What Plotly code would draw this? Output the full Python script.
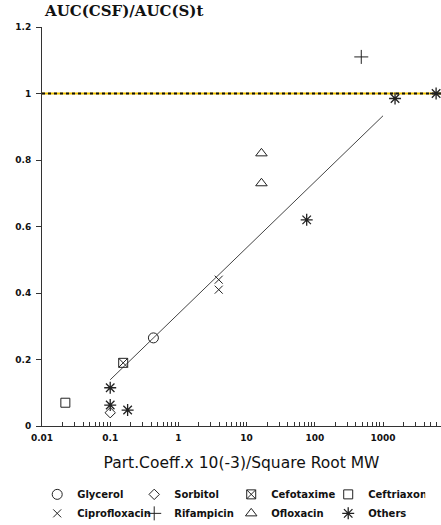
import plotly.graph_objects as go

# Drug measurements: partition coefficient x 10^-3 / sqrt(MW) vs AUC ratio
glycerol_x = [0.43]
glycerol_y = [0.265]
sorbitol_x = [0.1]
sorbitol_y = [0.04]
cefotaxime_x = [0.155]
cefotaxime_y = [0.19]
ceftriaxone_x = [0.022]
ceftriaxone_y = [0.07]
cipro_x = [3.9, 3.9]
cipro_y = [0.44, 0.41]
rifampicin_x = [480]
rifampicin_y = [1.11]
ofloxacin_x = [16.5, 16.5]
ofloxacin_y = [0.82, 0.73]
others_x = [0.1, 0.1, 0.18, 76, 1500, 6000]
others_y = [0.115, 0.063, 0.048, 0.62, 0.985, 1.0]

# Fitted regression line end points
fit_x = [0.1, 1000]
fit_y = [0.139, 0.933]

x_tickvals = [0.01, 0.1, 1, 10, 100, 1000]
x_ticktext = ["0.01", "0.1", "1", "10", "100", "1000"]
y_tickvals = [0, 0.2, 0.4, 0.6, 0.8, 1.0, 1.2]
y_ticktext = ["0", "0.2", "0.4", "0.6", "0.8", "1", "1.2"]

INK = "#222222"

series = [
    ("Glycerol", glycerol_x, glycerol_y, "circle-open", 10),
    ("Sorbitol", sorbitol_x, sorbitol_y, "diamond-open", 8),
    ("Cefotaxime", cefotaxime_x, cefotaxime_y, "square-x-open", 9),
    ("Ceftriaxone", ceftriaxone_x, ceftriaxone_y, "square-open", 9),
    ("Ciprofloxacin", cipro_x, cipro_y, "x-thin-open", 8),
    ("Rifampicin", rifampicin_x, rifampicin_y, "cross-thin-open", 10),
    ("Ofloxacin", ofloxacin_x, ofloxacin_y, "triangle-up-open", 10),
    ("Others", others_x, others_y, "asterisk-open", 10),
]

fig = go.Figure()

fig.add_trace(go.Scatter(
    x=fit_x, y=fit_y, mode="lines",
    line=dict(color="#444444", width=1),
    showlegend=False, hoverinfo="skip",
))

for name, xs, ys, sym, size in series:
    fig.add_trace(go.Scatter(
        x=xs, y=ys, mode="markers", name=name,
        marker=dict(symbol=sym, size=size, color=INK,
                    line=dict(color=INK, width=1.3 if name == "Others" else 1.0)),
        cliponaxis=False,
    ))

# Reference line at ratio = 1 (yellow with black dots)
fig.add_shape(type="line", xref="paper", yref="y", x0=0, x1=1, y0=1, y1=1,
              line=dict(color="#f2c400", width=2), layer="below")
fig.add_shape(type="line", xref="paper", yref="y", x0=0, x1=1, y0=1, y1=1,
              line=dict(color="#111111", width=2, dash="dot"), layer="below")

# Y-axis caption above the axis
fig.add_annotation(
    text="<b>AUC(CSF)/AUC(S)t</b>", xref="paper", yref="paper", x=0, y=1,
    xanchor="left", yanchor="bottom", yshift=5, showarrow=False,
    font=dict(family="DejaVu Serif", size=15, color="#111111"),
)

fig.update_layout(
    width=441, height=525,
    margin=dict(l=42, r=0, t=27, b=99, autoexpand=False),
    paper_bgcolor="white", plot_bgcolor="white",
    showlegend=True,
    legend=dict(
        orientation="h", x=-0.012, xanchor="left", y=-0.135, yanchor="top",
        entrywidth=52, entrywidthmode="pixels",
        font=dict(family="DejaVu Sans", size=10, color="#111111", weight="bold"),
        tracegroupgap=0, itemwidth=30,
    ),
    xaxis=dict(
        type="log", range=[-2, 3.85],
        tickvals=x_tickvals, ticktext=x_ticktext,
        ticks="inside", ticklen=4, tickcolor="#333333",
        minor=dict(ticks="inside", ticklen=4, dtick="D1", tickcolor="#333333", showgrid=False),
        showline=True, linecolor="#333333", linewidth=1,
        showgrid=False, zeroline=False,
        ticklabelstandoff=3,
        tickfont=dict(family="DejaVu Sans", size=9, color="#111111", weight="bold"),
        title=dict(text="Part.Coeff.x 10(-3)/Square Root MW",
                   font=dict(family="DejaVu Sans", size=15.5, color="#111111"),
                   standoff=15),
    ),
    yaxis=dict(
        range=[0, 1.2],
        tickvals=y_tickvals, ticktext=y_ticktext,
        ticks="outside", ticklen=5, tickcolor="#333333",
        showline=True, linecolor="#333333", linewidth=1,
        showgrid=False, zeroline=False,
        ticklabelstandoff=3,
        tickfont=dict(family="DejaVu Sans", size=9, color="#111111", weight="bold"),
    ),
)

fig.write_html("out.html")
